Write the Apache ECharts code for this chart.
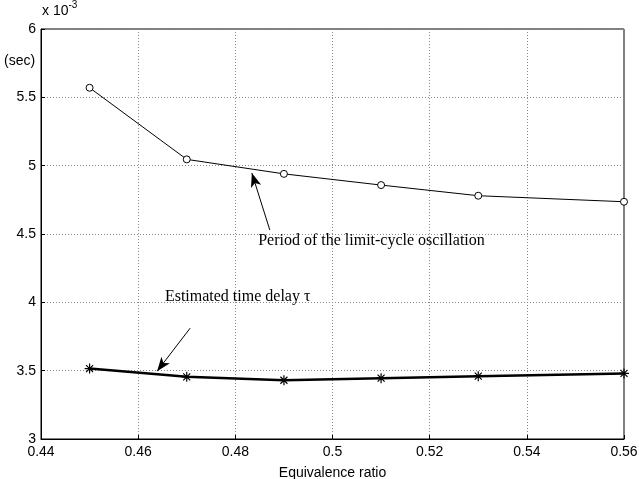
<!DOCTYPE html>
<html><head><meta charset="utf-8">
<script src="https://cdn.jsdelivr.net/npm/echarts@6/dist/echarts.min.js"></script>
<style>html,body{margin:0;padding:0;background:#fff}#c{width:639px;height:479px}</style>
</head><body><div id="c"></div>
<script>
const ratios = [0.45, 0.47, 0.49, 0.51, 0.53, 0.56];
const periodMs = [5.57, 5.046, 4.94, 4.858, 4.78, 4.736];
const delayMs = [3.515, 3.455, 3.43, 3.445, 3.46, 3.48];
const xTicks = [0.44, 0.46, 0.48, 0.5, 0.52, 0.54, 0.56];
const yTicks = [3, 3.5, 4, 4.5, 5, 5.5, 6];
const periodLabel = 'Period of the limit-cycle oscillation';
const delayLabel = 'Estimated time delay τ';

const chart = echarts.init(document.getElementById('c'));
const font = 'Liberation Sans, Arial, sans-serif';
const gridLine = {show: true, lineStyle: {color: '#888', type: [1, 2], width: 1}};
chart.setOption({
  animation: false,
  backgroundColor: '#fff',
  grid: {left: 41, right: 15, top: 29, bottom: 40, show: true, borderColor: '#000', borderWidth: 1,
         containLabel: false, outerBoundsMode: 'none'},
  xAxis: {
    type: 'value', min: 0.44, max: 0.56, interval: 0.02,
    name: 'Equivalence ratio', nameLocation: 'middle', nameGap: 27,
    nameTextStyle: {color: '#000', fontSize: 14, fontFamily: font},
    axisLine: {lineStyle: {color: '#000'}},
    axisTick: {inside: true, length: 4, lineStyle: {color: '#000'}},
    axisLabel: {color: '#000', fontSize: 14, fontFamily: font, margin: 6,
      formatter: v => { const s = xTicks.find(t => Math.abs(t - v) < 1e-9); return s === undefined ? '' : String(s); }},
    splitLine: gridLine
  },
  yAxis: {
    type: 'value', min: 3, max: 6, interval: 0.5,
    axisLine: {lineStyle: {color: '#000'}},
    axisTick: {inside: true, length: 4, lineStyle: {color: '#000'}},
    axisLabel: {color: '#000', fontSize: 14, fontFamily: font, margin: 5,
      formatter: v => { const s = yTicks.find(t => Math.abs(t - v) < 1e-9); return s === undefined ? '' : String(s); }},
    splitLine: gridLine
  },
  series: [
    {
      type: 'line', data: ratios.map((x, i) => [x, periodMs[i]]),
      symbol: 'circle', symbolSize: 7, showAllSymbol: true,
      itemStyle: {color: '#fff', borderColor: '#000', borderWidth: 1},
      lineStyle: {color: '#000', width: 1}, z: 3
    },
    {
      type: 'line', data: ratios.map((x, i) => [x, delayMs[i]]),
      symbol: 'path://M0,-5L0,5M-5,0L5,0M-3.5,-3.5L3.5,3.5M-3.5,3.5L3.5,-3.5', symbolSize: 10,
      itemStyle: {color: '#000', borderColor: '#000', borderWidth: 1.2},
      lineStyle: {color: '#000', width: 2.5}, z: 3,
      markLine: {
        silent: true, animation: false,
        lineStyle: {color: '#000', width: 1, type: 'solid'},
        symbolSize: [8, 14], label: {show: false},
        data: [
          [{coord: [0.4871, 4.529], symbol: 'none'}, {coord: [0.4834, 4.946], symbol: 'arrow'}],
          [{coord: [0.4707, 3.811], symbol: 'none'}, {coord: [0.4639, 3.496], symbol: 'arrow'}]
        ]
      }
    }
  ]
});

function place() {
  const p1 = chart.convertToPixel({gridIndex: 0}, [0.4847, 4.448]);
  const p2 = chart.convertToPixel({gridIndex: 0}, [0.4655, 4.038]);
  chart.setOption({
    graphic: [
      {type: 'text', left: 42, top: 0, style: {
        text: '{a|x 10}{b|-3}', rich: {
          a: {fontSize: 14, fontFamily: font, fill: '#000', padding: [7, 0, 0, 0]},
          b: {fontSize: 10, fontFamily: font, fill: '#000', padding: [0, 0, 6, 0]}
        }}},
      {type: 'text', left: 4, top: 54, style: {text: '(sec)', fontSize: 14, fontFamily: font, fill: '#000'}},
      {type: 'text', x: p1[0], y: p1[1], style: {text: periodLabel, fontSize: 16, fontFamily: 'Liberation Serif, serif', fill: '#000', verticalAlign: 'middle'}},
      {type: 'text', x: p2[0], y: p2[1], style: {text: delayLabel, fontSize: 16, fontFamily: 'Liberation Serif, serif', fill: '#000', verticalAlign: 'middle'}}
    ]
  });
}
place();
</script></body></html>
